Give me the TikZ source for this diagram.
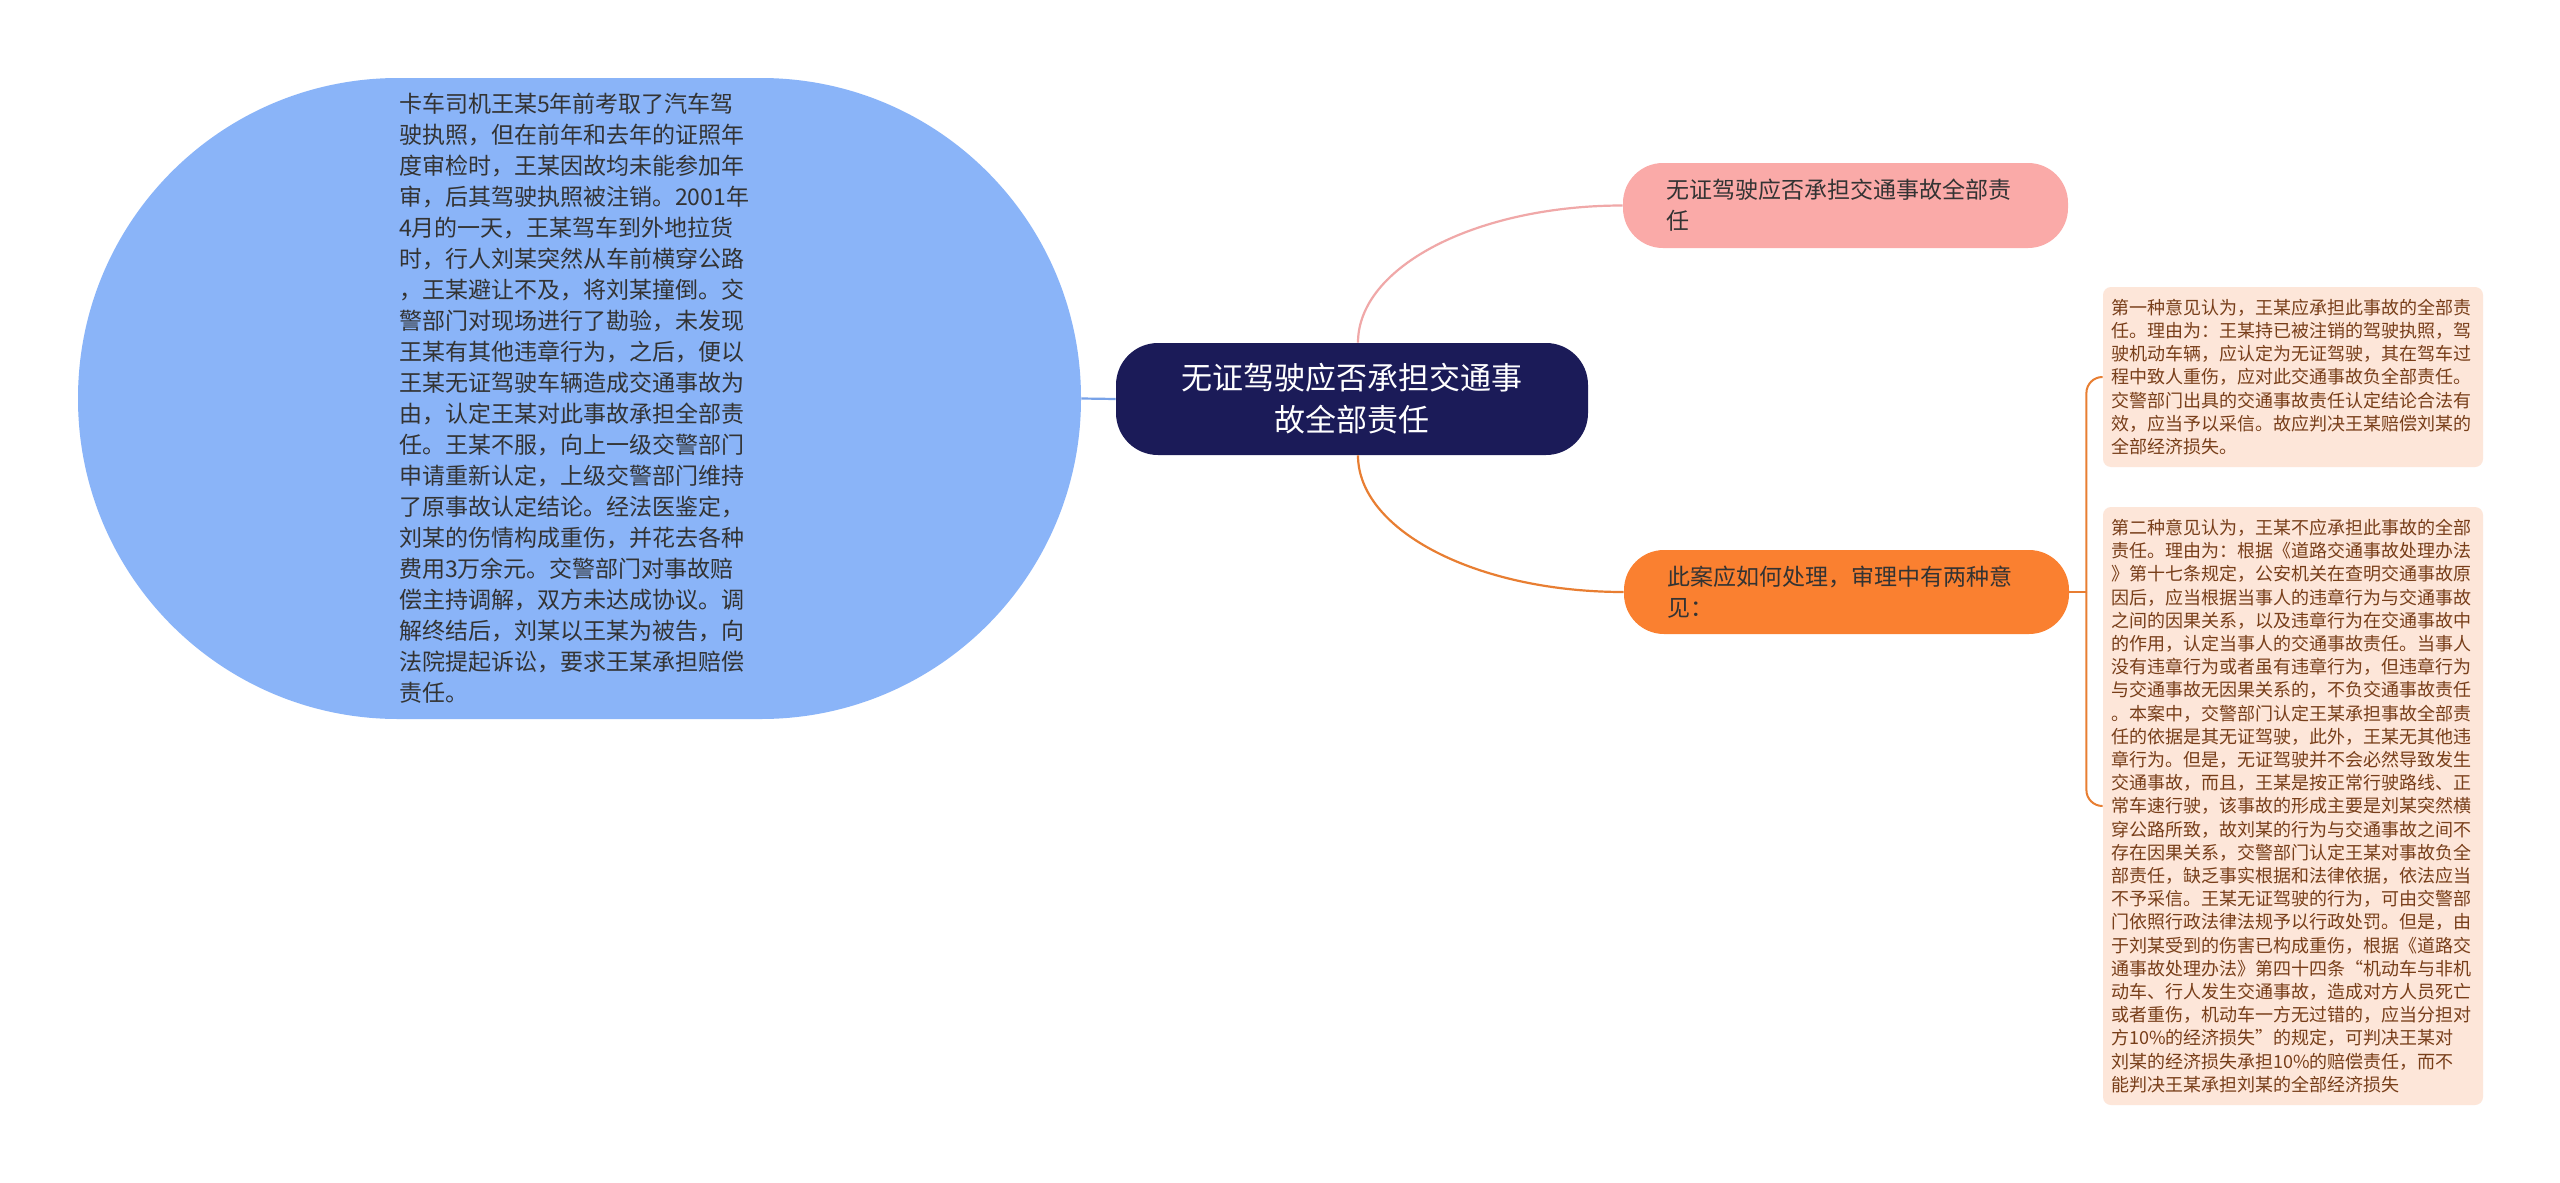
\documentclass[tikz,border=0pt]{standalone}
\usepackage{fontspec}
\setmainfont{Noto Sans CJK SC}
\definecolor{blueFill}{RGB}{138,180,248}
\definecolor{blueLine}{RGB}{120,162,232}
\definecolor{navy}{RGB}{27,27,88}
\definecolor{pinkFill}{RGB}{250,170,168}
\definecolor{pinkLine}{RGB}{240,168,168}
\definecolor{orangeFill}{RGB}{250,128,48}
\definecolor{orangeLine}{RGB}{232,126,50}
\definecolor{peach}{RGB}{253,230,217}
\definecolor{brownText}{RGB}{120,62,25}
\definecolor{darkText}{RGB}{51,51,51}
\tikzset{
  bigbox/.style={draw=none, fill=blueFill, rounded corners=160pt, minimum height=320.5pt,
    text width=180.5pt, inner xsep=160.5pt, inner ysep=0pt, align=left, text=darkText,
    font=\fontsize{11.5pt}{15.5pt}\selectfont},
  rootbox/.style={fill=navy, rounded corners=21pt, minimum width=236pt, minimum height=56pt,
    inner sep=0pt, align=center, text=white, font=\fontsize{15.5pt}{21pt}\selectfont},
  pillbox/.style={rounded corners=20pt, minimum height=42.5pt, text width=179.5pt,
    inner xsep=21.5pt, inner ysep=0pt, align=left, text=darkText,
    font=\fontsize{11.5pt}{15.5pt}\selectfont},
  notebox/.style={fill=peach, rounded corners=4pt, text width=182pt, inner xsep=4pt,
    inner ysep=0pt, align=left, text=brownText, font=\fontsize{9pt}{11.6pt}\selectfont},
  conn/.style={line width=1.1pt},
}
\begin{document}
\begin{tikzpicture}[x=0.5pt,y=-0.5pt]
\useasboundingbox (0,0) rectangle (2560,1183);
\fill[white] (0,0) rectangle (2560,1183);

\node[bigbox] (story) at (579.5,398.5) {卡车司机王某5年前考取了汽车驾\\
驶执照，但在前年和去年的证照年\\
度审检时，王某因故均未能参加年\\
审，后其驾驶执照被注销。2001年\\
4月的一天，王某驾车到外地拉货\\
时，行人刘某突然从车前横穿公路\\
，王某避让不及，将刘某撞倒。交\\
警部门对现场进行了勘验，未发现\\
王某有其他违章行为，之后，便以\\
王某无证驾驶车辆造成交通事故为\\
由，认定王某对此事故承担全部责\\
任。王某不服，向上一级交警部门\\
申请重新认定，上级交警部门维持\\
了原事故认定结论。经法医鉴定，\\
刘某的伤情构成重伤，并花去各种\\
费用3万余元。交警部门对事故赔\\
偿主持调解，双方未达成协议。调\\
解终结后，刘某以王某为被告，向\\
法院提起诉讼，要求王某承担赔偿\\
责任。};

\node[rootbox] (root) at (1352,399) {无证驾驶应否承担交通事\\故全部责任};

\node[pillbox, fill=pinkFill, minimum height=42.5pt] (q) at (1845.5,205.5) {无证驾驶应否承担交通事故全部责\\任};

\node[pillbox, fill=orangeFill, minimum height=42pt] (how) at (1846.5,592) {此案应如何处理，审理中有两种意\\见：};

\node[notebox, minimum height=90pt] (op1) at (2293,377) {第一种意见认为，王某应承担此事故的全部责\\
任。理由为：王某持已被注销的驾驶执照，驾\\
驶机动车辆，应认定为无证驾驶，其在驾车过\\
程中致人重伤，应对此交通事故负全部责任。\\
交警部门出具的交通事故责任认定结论合法有\\
效，应当予以采信。故应判决王某赔偿刘某的\\
全部经济损失。};

\node[notebox, minimum height=299pt] (op2) at (2293,806) {第二种意见认为，王某不应承担此事故的全部\\
责任。理由为：根据《道路交通事故处理办法\\
》第十七条规定，公安机关在查明交通事故原\\
因后，应当根据当事人的违章行为与交通事故\\
之间的因果关系，以及违章行为在交通事故中\\
的作用，认定当事人的交通事故责任。当事人\\
没有违章行为或者虽有违章行为，但违章行为\\
与交通事故无因果关系的，不负交通事故责任\\
。本案中，交警部门认定王某承担事故全部责\\
任的依据是其无证驾驶，此外，王某无其他违\\
章行为。但是，无证驾驶并不会必然导致发生\\
交通事故，而且，王某是按正常行驶路线、正\\
常车速行驶，该事故的形成主要是刘某突然横\\
穿公路所致，故刘某的行为与交通事故之间不\\
存在因果关系，交警部门认定王某对事故负全\\
部责任，缺乏事实根据和法律依据，依法应当\\
不予采信。王某无证驾驶的行为，可由交警部\\
门依照行政法律法规予以行政处罚。但是，由\\
于刘某受到的伤害已构成重伤，根据《道路交\\
通事故处理办法》第四十四条“机动车与非机\\
动车、行人发生交通事故，造成对方人员死亡\\
或者重伤，机动车一方无过错的，应当分担对\\
方10\%的经济损失”的规定，可判决王某对\\
刘某的经济损失承担10\%的赔偿责任，而不\\
能判决王某承担刘某的全部经济损失};

% connectors
\draw[conn, blueLine] (story.east) -- (root.west);
\draw[conn, pinkLine] ([xshift=3pt]root.north) .. controls +(0,-76) and +(-146,0) .. (q.west);
\draw[conn, orangeLine] ([xshift=3pt]root.south) .. controls +(0,75) and +(-147,0) .. (how.west);
\coordinate (jn) at ([xshift=8.5pt]how.east);
\draw[line width=1pt, orangeLine] (how.east) -- (jn);
\draw[line width=1pt, orangeLine, rounded corners=8pt] (jn) |- (op1.west);
\draw[line width=1pt, orangeLine, rounded corners=8pt] (jn) |- (op2.west);
\end{tikzpicture}
\end{document}
